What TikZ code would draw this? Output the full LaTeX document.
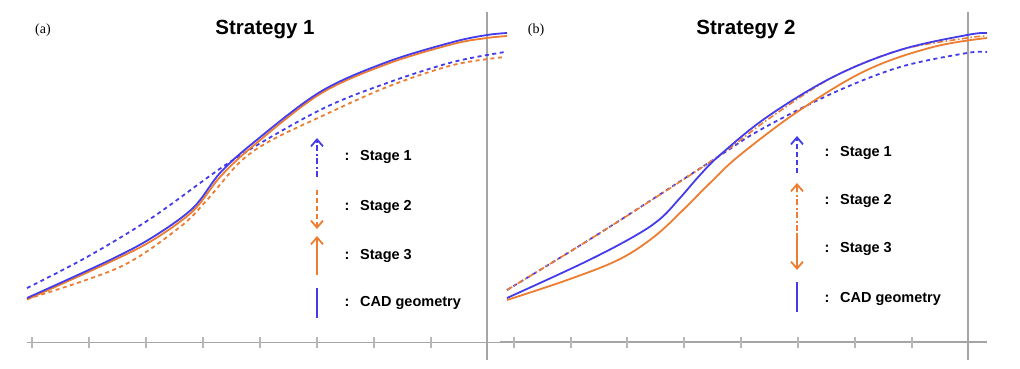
\documentclass[tikz,border=0pt]{standalone}
\usepackage{fontspec}
\setmainfont{Liberation Serif}
\newfontfamily\lsans{Liberation Sans}
\usetikzlibrary{arrows.meta}
\definecolor{cblue}{RGB}{68,60,235}
\definecolor{corange}{RGB}{237,125,49}
\definecolor{axgray}{RGB}{165,165,165}
\begin{document}
\begin{tikzpicture}[x=1pt,y=-1pt,
  curve/.style={line width=1.8pt,line join=round},
  dashcurve/.style={line width=1.8pt,dash pattern=on 4pt off 3.5pt},
  dashdotcurve/.style={line width=1.6pt,dash pattern=on 6pt off 2.5pt on 1.5pt off 2.5pt},
  legarrow/.style={line width=1.8pt},
  head/.style={-{Straight Barb[length=7pt,width=12pt,line width=1.8pt]}},
  legtext/.style={font=\lsans\bfseries\fontsize{14.5}{16}\selectfont,anchor=west,inner sep=0pt},
  colon/.style={font=\lsans\bfseries\fontsize{14.5}{16}\selectfont,inner sep=0pt},
  titletext/.style={font=\lsans\bfseries\fontsize{20.5}{24}\selectfont,inner sep=0pt},
  paneltext/.style={font=\fontsize{14}{16}\selectfont,inner sep=0pt},
  axisline/.style={axgray,line width=1.5pt},
  vline/.style={axgray,line width=2pt},
  tick/.style={axgray!80,line width=1.2pt}]
\useasboundingbox (0,0) rectangle (1020,368);

% ---------- Panel (a) ----------
\draw[axisline] (27,342.5) -- (507,342.5);
\foreach \t in {32,89,146,203,260,317,374,431}
  \draw[tick] (\t,337) -- (\t,348);
\draw[vline] (487,12) -- (487,360);

\draw[corange,dashcurve] plot[smooth,tension=0.55] coordinates
  {(27,299) (120,267) (180,227) (207,200) (240,162) (270,141) (320,117) (387,87) (453,65) (505,57)};
\draw[cblue,dashcurve] plot[smooth,tension=0.55] coordinates
  {(27,288) (87,257) (153,217) (233,160) (320,110) (387,83) (453,62) (505,52)};
\draw[corange,curve] plot[smooth,tension=0.55] coordinates
  {(27,299.5) (110,262) (153,240) (193,211) (220,177) (253,146) (320,94) (387,64) (453,44) (487,38) (507,36)};
\draw[cblue,curve] plot[smooth,tension=0.55] coordinates
  {(27,298) (110,260) (153,237) (193,208) (220,173) (253,143) (320,92) (387,62) (453,42) (487,35) (507,33)};

\node[paneltext] (la) at (43,30) {(a)};
\node[titletext] (ta) at (265,30) {Strategy 1};

\coordinate (a1s) at (317,177); \coordinate (a1e) at (317,138);
\coordinate (a2s) at (317,190); \coordinate (a2e) at (317,229);
\coordinate (a3s) at (317,275); \coordinate (a3e) at (317,236);
\coordinate (a4s) at (317,288); \coordinate (a4e) at (317,318);
\draw[cblue,legarrow,head,dash pattern=on 6pt off 2.5pt on 2pt off 2.5pt] (a1s) -- (a1e);
\draw[corange,legarrow,head,dash pattern=on 5pt off 3pt] (a2s) -- (a2e);
\draw[corange,legarrow,head] (a3s) -- (a3e);
\draw[cblue,legarrow] (a4s) -- (a4e);
\node[colon] (ac1) at (347,157) {:};
\node[colon] (ac2) at (347,207) {:};
\node[colon] (ac3) at (347,256) {:};
\node[colon] (ac4) at (347,303) {:};
\node[legtext] (at1) at (360,157) {Stage 1};
\node[legtext] (at2) at (360,207) {Stage 2};
\node[legtext] (at3) at (360,256) {Stage 3};
\node[legtext] (at4) at (360,303) {CAD geometry};

% ---------- Panel (b) ----------
\draw[axisline] (500,342) -- (987,342);
\foreach \t in {514,571,627,684,741,798,855,912}
  \draw[tick] (\t,337) -- (\t,348);
\draw[vline] (968,12) -- (968,360);

\draw[cblue,dashcurve] plot[smooth,tension=0.55] coordinates
  {(507,290) (600,233) (713,160) (760,130) (833,93) (900,67) (967,53) (987,52)};
\draw[corange,dashdotcurve] plot[smooth,tension=0.55] coordinates
  {(507,290) (600,233) (713,160) (767,120) (833,77) (900,50) (967,38) (987,36)};
\draw[corange,curve] plot[smooth,tension=0.6] coordinates
  {(507,300) (570,279) (620,259) (655,236) (683,210) (710,183) (740,155) (800,110) (867,70) (933,47) (987,38)};
\draw[cblue,curve] plot[smooth,tension=0.6] coordinates
  {(507,298) (583,263) (633,237) (660,219) (680,198) (700,175) (720,155) (767,117) (833,77) (900,50) (967,35) (987,33)};

\node[paneltext] (lb) at (536,30) {(b)};
\node[titletext] (tb) at (746,30) {Strategy 2};

\coordinate (b1s) at (797,173); \coordinate (b1e) at (797,136);
\coordinate (b2s) at (797,231); \coordinate (b2e) at (797,183);
\coordinate (b3s) at (797,233); \coordinate (b3e) at (797,270);
\coordinate (b4s) at (797,282); \coordinate (b4e) at (797,312);
\draw[cblue,legarrow,head,dash pattern=on 5pt off 3pt] (b1s) -- (b1e);
\draw[corange,legarrow,head,dash pattern=on 6pt off 2.5pt on 2pt off 2.5pt] (b2s) -- (b2e);
\draw[corange,legarrow,head] (b3s) -- (b3e);
\draw[cblue,legarrow] (b4s) -- (b4e);
\node[colon] (bc1) at (827,153) {:};
\node[colon] (bc2) at (827,201) {:};
\node[colon] (bc3) at (827,249) {:};
\node[colon] (bc4) at (827,299) {:};
\node[legtext] (bt1) at (840,153) {Stage 1};
\node[legtext] (bt2) at (840,201) {Stage 2};
\node[legtext] (bt3) at (840,249) {Stage 3};
\node[legtext] (bt4) at (840,299) {CAD geometry};
\end{tikzpicture}
\end{document}
